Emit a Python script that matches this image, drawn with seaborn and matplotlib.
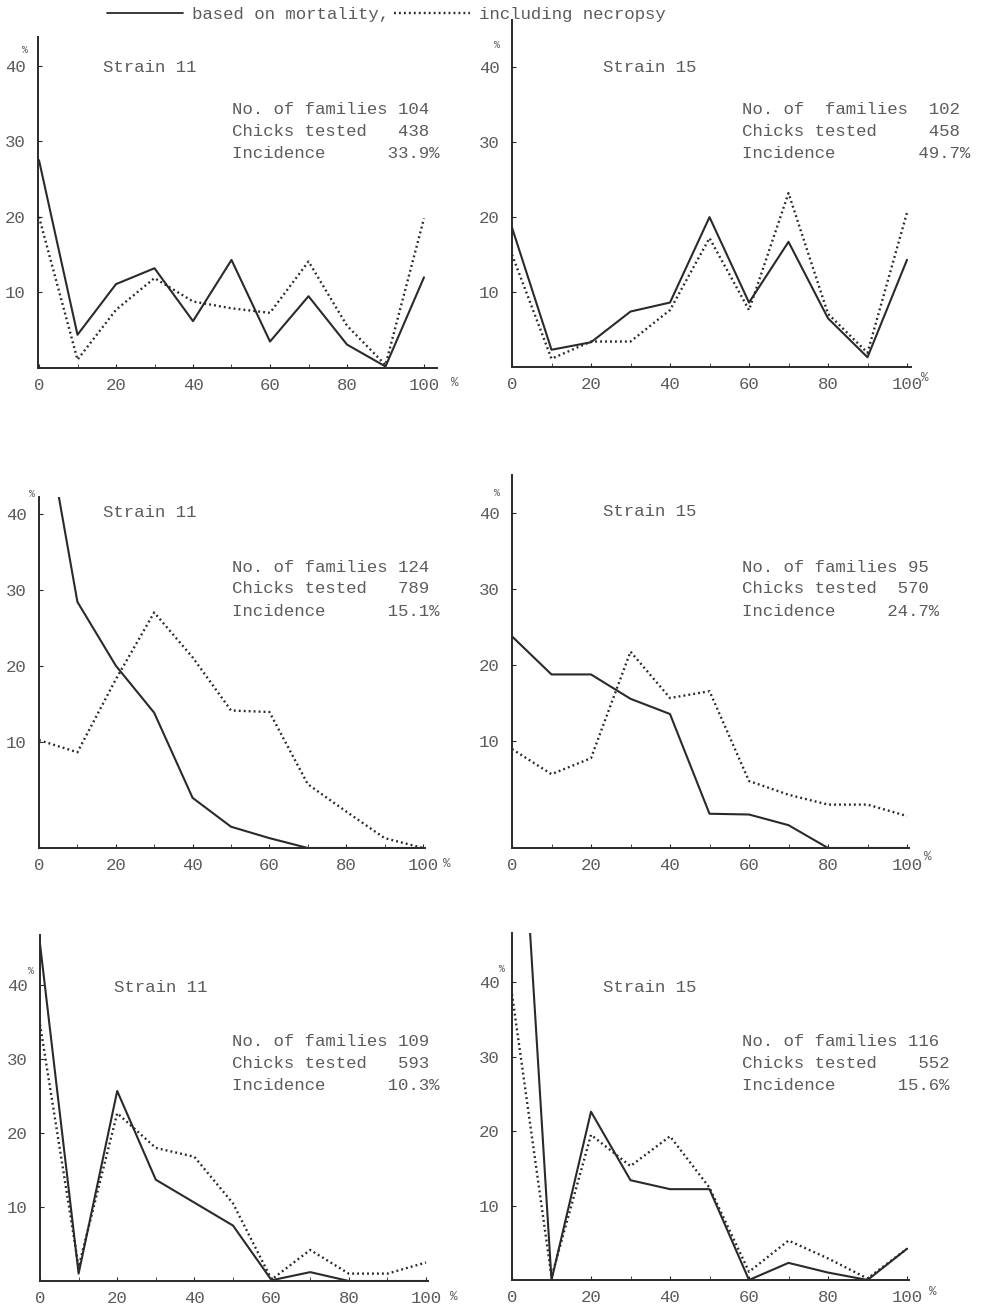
import numpy as np
import pandas as pd
import matplotlib
matplotlib.use('Agg')
import matplotlib.pyplot as plt
from matplotlib.lines import Line2D
import seaborn as sns

# x axis: % of affected chicks within a family
pct = [0, 10, 20, 30, 40, 50, 60, 70, 80, 90, 100]

# row 1
r1_s11_mort = [27.5, 4.4, 11.1, 13.2, 6.2, 14.3, 3.5, 9.5, 3.1, 0.2, 12.0]
r1_s11_necr = [20.0, 1.1, 7.7, 11.9, 8.8, 7.9, 7.3, 14.1, 5.6, 0.4, 19.8]
r1_s15_mort = [18.6, 2.3, 3.3, 7.4, 8.6, 20.0, 8.6, 16.7, 6.5, 1.3, 14.3]
r1_s15_necr = [15.0, 1.1, 3.4, 3.4, 7.6, 17.2, 7.6, 23.2, 7.1, 1.9, 20.6]
r2_s11_mort = [61.0, 32.4, 24.0, 17.8, 6.6, 2.8, 1.3, 0.0, 0.0, 0.0, 0.0]
r2_s11_necr = [14.2, 12.6, 22.2, 31.0, 25.1, 18.1, 17.9, 8.4, 4.8, 1.3, 0.0]
r2_s15_mort = [27.8, 22.8, 22.8, 19.6, 17.6, 4.5, 4.4, 3.0, 0.0, 0.0, 0.0]
r2_s15_necr = [13.0, 9.7, 11.8, 25.8, 19.7, 20.6, 8.8, 7.0, 5.7, 5.7, 4.2]
# row 3
r3_s11_mort = [45.6, 1.0, 25.7, 13.7, 10.6, 7.5, 0.1, 1.2, 0.0, 0.0, 0.0]
r3_s11_necr = [34.7, 1.9, 22.7, 18.0, 16.8, 10.5, 0.2, 4.2, 1.0, 1.0, 2.5]
r3_s15_mort = [86.0, 0.0, 22.6, 13.4, 12.2, 12.2, 0.0, 2.3, 1.0, 0.0, 4.2]
r3_s15_necr = [38.4, 0.4, 19.5, 15.3, 19.3, 12.4, 1.1, 5.3, 2.9, 0.2, 4.2]

strains = ['Strain 11', 'Strain 15', 'Strain 11', 'Strain 15', 'Strain 11', 'Strain 15']
stats = [
    ['No. of families 104', 'Chicks tested   438', 'Incidence      33.9%'],
    ['No. of  families  102', 'Chicks tested     458', 'Incidence        49.7%'],
    ['No. of families 124', 'Chicks tested   789', 'Incidence      15.1%'],
    ['No. of families 95', 'Chicks tested  570', 'Incidence     24.7%'],
    ['No. of families 109', 'Chicks tested   593', 'Incidence      10.3%'],
    ['No. of families 116', 'Chicks tested    552', 'Incidence      15.6%'],
]
series = [(r1_s11_mort, r1_s11_necr), (r1_s15_mort, r1_s15_necr),
          (r2_s11_mort, r2_s11_necr), (r2_s15_mort, r2_s15_necr),
          (r3_s11_mort, r3_s11_necr), (r3_s15_mort, r3_s15_necr)]

W, H = 985, 1308
sns.set_style('ticks')
plt.rcParams['font.family'] = ['Liberation Mono', 'DejaVu Sans Mono']
line_col = '#2a2a2a'
txt_col = '#5c5c5c'
fs = 12.5

fig = plt.figure(figsize=(W / 100, H / 100), dpi=100)


def fx(x):
    return x / W


def fy(y):
    return 1 - y / H


# layout in pixels: left, top, right, bottom, x at 0, x at 100, y top value, tick offset
layout = [
    (38, 37, 437, 368, 39, 424, 43.8, 0),
    (512, 20, 911, 367, 512, 907, 46.3, 0),
    (39, 497, 425, 848, 39, 423, 46.2, 4),
    (512, 475, 909, 848, 512, 907, 49.0, 4),
    (40, 935, 428, 1281, 40, 426, 46.8, 0),
    (512, 933, 909, 1280, 512, 907, 46.6, 0),
]
strain_pos = [(103, 68), (603, 67), (103, 513), (603, 512), (114, 988), (603, 988)]
stats_pos = [(232, 110), (742, 110), (232, 567), (742, 567), (232, 1042), (742, 1042)]
ypct_pos = [(25, 50), (497, 45), (32, 494), (497, 493), (31, 971), (502, 969)]
xpct_pos = [(455, 383), (925, 378), (447, 864), (928, 857), (454, 1297), (933, 1292)]

for i, (l, t, r, b, x0, x100, ytop, off) in enumerate(layout):
    ax = fig.add_axes([fx(l), fy(b), fx(r - l), (b - t) / H])
    k = 100 / (x100 - x0)
    ax.set_xlim((l - x0) * k, (r - x0) * k)
    ax.set_ylim(0, ytop)
    mort, necr = series[i]
    df = pd.DataFrame({'pct': pct, 'mort': mort, 'necr': necr})
    sns.lineplot(data=df, x='pct', y='mort', ax=ax, color=line_col, lw=1.5)
    sns.lineplot(data=df, x='pct', y='necr', ax=ax, color=line_col, lw=1.7,
                 linestyle=(0, (0.8, 1.3)))
    ax.set_xlabel('')
    ax.set_ylabel('')
    sns.despine(ax=ax)
    for sp in ['left', 'bottom']:
        ax.spines[sp].set_color(line_col)
        ax.spines[sp].set_linewidth(1.4)
    ax.set_xticks([0, 20, 40, 60, 80, 100])
    ax.set_xticks([10, 30, 50, 70, 90], minor=True)
    ax.set_yticks(np.array([10, 20, 30, 40]) + off)
    ax.set_yticklabels(['10', '20', '30', '40'])
    ax.tick_params(axis='both', which='both', direction='in', length=3,
                   color=line_col, labelsize=fs, labelcolor=txt_col)
    ax.tick_params(axis='x', pad=7)
    ax.tick_params(axis='y', pad=9)

    fig.text(fx(strain_pos[i][0]), fy(strain_pos[i][1]), strains[i],
             fontsize=fs, color=txt_col, va='center', ha='left')
    sx, sy = stats_pos[i]
    for j, s in enumerate(stats[i]):
        fig.text(fx(sx), fy(sy + 22 * j), s, fontsize=fs, color=txt_col,
                 va='center', ha='left')
    fig.text(fx(ypct_pos[i][0]), fy(ypct_pos[i][1]), '%', fontsize=7,
             color=txt_col, va='center', ha='center')
    fig.text(fx(xpct_pos[i][0]), fy(xpct_pos[i][1]), '%', fontsize=9,
             color=txt_col, va='center', ha='center')

handles = [Line2D([], [], color=line_col, lw=1.3),
           Line2D([], [], color=line_col, lw=1.7, linestyle=(0, (0.8, 1.3)))]
leg = fig.legend(handles, ['based on mortality,', 'including necropsy'],
                 loc='center left', bbox_to_anchor=(fx(98), fy(14)), ncol=2,
                 frameon=False, handlelength=4.4, handletextpad=0.5,
                 columnspacing=0.3, fontsize=fs, borderpad=0)
for txt in leg.get_texts():
    txt.set_color(txt_col)

fig.savefig('out.png', dpi=100)
